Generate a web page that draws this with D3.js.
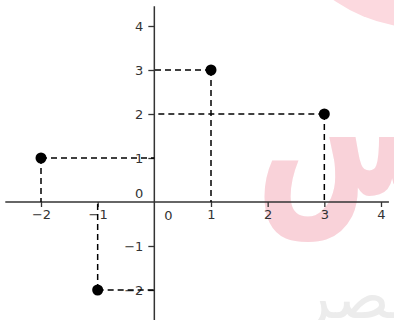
<!DOCTYPE html>
<html>
<head>
<meta charset="utf-8">
<script src="https://cdn.jsdelivr.net/npm/d3@7"></script>
<style>
  body { margin: 0; background: #fff; }
  svg { display: block; }
</style>
</head>
<body>
<div id="chart"></div>
<script>
// points on the plane
const pointX = [-2, -1, 1, 3];
const pointY = [1, -2, 3, 2];
// tick labels (0 is written separately on both axes)
const xTicks = [-2, -1, 1, 2, 3, 4];
const yTicks = [-2, -1, 1, 2, 3, 4];

const width = 394, height = 320;

const svg = d3.select("#chart").append("svg")
    .attr("width", width)
    .attr("height", height);

const x = d3.scaleLinear().domain([-2, 4]).range([41, 381]);
const y = d3.scaleLinear().domain([-2, 4]).range([290, 26]);

// watermark bits behind the chart
const wm = svg.append("g").attr("class", "watermark");
wm.append("circle")
    .attr("cx", 422).attr("cy", -126).attr("r", 154)
    .style("fill", "#fcd9df");
wm.append("text")
    .attr("transform", "translate(462,194) scale(1,1.3)")
    .attr("text-anchor", "end")
    .style("font-family", "DejaVu Sans")
    .style("font-weight", "bold")
    .style("font-size", "150px")
    .style("fill", "#f9d2d9")
    .text("س");
wm.append("text")
    .attr("x", 425).attr("y", 318)
    .attr("text-anchor", "end")
    .style("font-family", "DejaVu Sans")
    .style("font-size", "64px")
    .style("fill", "#ececec")
    .text("مصر");

// axis lines
svg.append("line")
    .attr("x1", x(-2.63)).attr("x2", x(4.14))
    .attr("y1", y(0)).attr("y2", y(0))
    .style("stroke", "#333").style("stroke-width", 1.5);
svg.append("line")
    .attr("x1", x(0)).attr("x2", x(0))
    .attr("y1", y(4.45)).attr("y2", y(-2.72))
    .style("stroke", "#333").style("stroke-width", 1.5);

// ticks and labels
const xAxis = svg.append("g")
    .attr("transform", `translate(0,${y(0)})`)
    .call(d3.axisBottom(x).tickValues(xTicks).tickFormat(d3.format("d")).tickSize(5).tickPadding(3));
const yAxis = svg.append("g")
    .attr("transform", `translate(${x(0)},0)`)
    .call(d3.axisLeft(y).tickValues(yTicks).tickFormat(d3.format("d")).tickSize(6).tickPadding(5));

[xAxis, yAxis].forEach(a => {
    a.select(".domain").remove();
    a.selectAll("line").style("stroke", "#333").style("stroke-width", 1.3);
    a.selectAll("text")
        .style("font-family", "DejaVu Sans")
        .style("font-size", "13px")
        .style("fill", "#333");
});

// the two zeros
svg.append("text")
    .attr("x", x(0) - 11).attr("y", y(0) - 4)
    .attr("text-anchor", "end")
    .style("font-family", "DejaVu Sans").style("font-size", "13px").style("fill", "#333")
    .text("0");
svg.append("text")
    .attr("x", x(0) + 14).attr("y", y(0) + 18)
    .attr("text-anchor", "middle")
    .style("font-family", "DejaVu Sans").style("font-size", "13px").style("fill", "#333")
    .text("0");

// dashed guides to the axes
const pts = pointX.map((v, i) => ({ px: v, py: pointY[i] }));
const guides = svg.append("g")
    .style("stroke", "#000")
    .style("stroke-width", 1.5)
    .style("stroke-dasharray", "6,4")
    .style("fill", "none");

guides.selectAll(".h").data(pts).join("line")
    .attr("class", "h")
    .attr("x1", d => x(d.px)).attr("x2", x(0))
    .attr("y1", d => y(d.py)).attr("y2", d => y(d.py));
guides.selectAll(".v").data(pts).join("line")
    .attr("class", "v")
    .attr("x1", d => x(d.px)).attr("x2", d => x(d.px))
    .attr("y1", d => y(d.py)).attr("y2", y(0));

// points
svg.selectAll(".pt").data(pts).join("circle")
    .attr("class", "pt")
    .attr("cx", d => x(d.px))
    .attr("cy", d => y(d.py))
    .attr("r", 5.5)
    .style("fill", "#000");
</script>
</body>
</html>
